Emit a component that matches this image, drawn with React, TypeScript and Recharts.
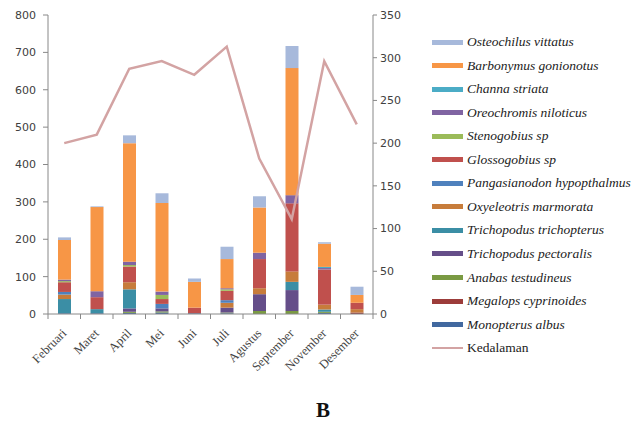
import React from 'react';
import { ComposedChart, Bar, Line, XAxis, YAxis } from 'recharts';

const months = ['Februari', 'Maret', 'April', 'Mei', 'Juni', 'Juli', 'Agustus', 'September', 'November', 'Desember'];

const monopterus = [2, 2, 3, 4, 2, 2, 0, 0, 3, 0];
const megalops = [0, 0, 0, 0, 0, 0, 0, 0, 0, 4];
const anabas = [0, 0, 3, 3, 0, 2, 8, 8, 3, 0];
const tPectoralis = [0, 0, 9, 8, 0, 13, 45, 56, 0, 0];
const tTrichopterus = [38, 11, 51, 0, 0, 0, 0, 22, 6, 0];
const oxyeleotris = [12, 0, 19, 0, 0, 13, 16, 28, 13, 9];
const pangasianodon = [7, 0, 0, 12, 0, 7, 0, 0, 0, 0];
const glossogobius = [26, 32, 42, 13, 15, 25, 78, 182, 94, 17];
const stenogobius = [3, 0, 4, 11, 0, 4, 0, 0, 0, 0];
const oreochromis = [4, 16, 9, 9, 0, 3, 17, 22, 4, 0];
const channa = [0, 0, 0, 0, 0, 0, 0, 0, 3, 0];
const barbonymus = [106, 225, 317, 237, 69, 78, 121, 340, 62, 21];
const osteochilus = [7, 2, 21, 26, 9, 33, 30, 59, 4, 22];
const kedalaman = [200, 210, 287, 296, 280, 313, 182, 111, 296, 222];

const leftTicks = [0, 100, 200, 300, 400, 500, 600, 700, 800];
const rightTicks = [0, 50, 100, 150, 200, 250, 300, 350];

// stacking order: bottom first
const series = [
  { key: 'monopterus', name: 'Monopterus albus', values: monopterus, color: '#41689F' },
  { key: 'megalops', name: 'Megalops cyprinoides', values: megalops, color: '#9C3C3A' },
  { key: 'anabas', name: 'Anabas testudineus', values: anabas, color: '#7A9A43' },
  { key: 'tPectoralis', name: 'Trichopodus pectoralis', values: tPectoralis, color: '#654E89' },
  { key: 'tTrichopterus', name: 'Trichopodus trichopterus', values: tTrichopterus, color: '#3B8EA5' },
  { key: 'oxyeleotris', name: 'Oxyeleotris marmorata', values: oxyeleotris, color: '#C77C3B' },
  { key: 'pangasianodon', name: 'Pangasianodon hypopthalmus', values: pangasianodon, color: '#4F81BD' },
  { key: 'glossogobius', name: 'Glossogobius sp', values: glossogobius, color: '#C0504D' },
  { key: 'stenogobius', name: 'Stenogobius sp', values: stenogobius, color: '#9BBB59' },
  { key: 'oreochromis', name: 'Oreochromis niloticus', values: oreochromis, color: '#8064A2' },
  { key: 'channa', name: 'Channa striata', values: channa, color: '#4BACC6' },
  { key: 'barbonymus', name: 'Barbonymus gonionotus', values: barbonymus, color: '#F79646' },
  { key: 'osteochilus', name: 'Osteochilus vittatus', values: osteochilus, color: '#A7B9DB' },
];

const lineColor = '#D3A3A3';

const data = months.map((m, i) => {
  const row: Record<string, number | string> = { month: m, kedalaman: kedalaman[i] };
  series.forEach((s) => {
    row[s.key] = s.values[i];
  });
  return row;
});

const BAND = 32.5;

const MonthTick = (props: any) => {
  const { x, y, payload, index } = props;
  const tx = x + 3;
  const ty = y + 20;
  return (
    <g>
      <line x1={x + BAND / 2} y1={y} x2={x + BAND / 2} y2={y + 5} stroke="#888" />
      {index === 0 && <line x1={x - BAND / 2} y1={y} x2={x - BAND / 2} y2={y + 5} stroke="#888" />}
      <text
        x={tx}
        y={ty}
        textAnchor="end"
        fill="#444"
        fontSize={12.5}
        fontFamily="'Liberation Serif', serif"
        transform={`rotate(-45 ${tx} ${ty})`}
      >
        {payload.value}
      </text>
    </g>
  );
};

const legendItems = [...series].reverse();

export default function App() {
  return (
    <div style={{ position: 'absolute', left: 0, top: 0, width: 634, height: 421, background: '#fff' }}>
      <ComposedChart
        width={634}
        height={421}
        data={data}
        margin={{ top: 15, right: 221, left: 0, bottom: 77 }}
        barSize={13}
      >
        <XAxis
          dataKey="month"
          xAxisId="x"
          height={30}
          stroke="#888"
          tickLine={false}
          tickSize={0}
          tickMargin={0}
          interval={0}
          tick={<MonthTick />}
        />
        <YAxis
          yAxisId="left"
          domain={[0, 800]}
          ticks={leftTicks}
          width={48}
          stroke="#888"
          tickSize={5}
          tickMargin={7}
          tick={{ fill: '#404040', fontSize: 11, fontFamily: "'DejaVu Sans', sans-serif" }}
          interval={0}
        />
        <YAxis
          yAxisId="right"
          orientation="right"
          domain={[0, 350]}
          ticks={rightTicks}
          width={40}
          stroke="#888"
          tickSize={4}
          tickMargin={3}
          tick={{ fill: '#404040', fontSize: 11, fontFamily: "'DejaVu Sans', sans-serif", textAnchor: 'start' }}
          interval={0}
        />
        {series.map((s) => (
          <Bar
            key={s.key}
            dataKey={s.key}
            name={s.name}
            stackId="a"
            xAxisId="x"
            yAxisId="left"
            fill={s.color}
            isAnimationActive={false}
          />
        ))}
        <Line
          dataKey="kedalaman"
          name="Kedalaman"
          xAxisId="x"
          yAxisId="right"
          type="linear"
          stroke={lineColor}
          strokeWidth={2.5}
          dot={false}
          activeDot={false}
          isAnimationActive={false}
        />
      </ComposedChart>
      <div style={{ position: 'absolute', left: 432, top: 30 }}>
        {legendItems.map((s, i) => (
          <div
            key={s.key}
            style={{ position: 'absolute', top: i * 23.55, left: 0, height: 24, display: 'flex', alignItems: 'center', whiteSpace: 'nowrap' }}
          >
            <div style={{ width: 31, height: 5, background: s.color }} />
            <span
              style={{
                marginLeft: 4,
                fontFamily: "'Liberation Serif', serif",
                fontStyle: 'italic',
                fontSize: 13.5,
                color: '#222',
              }}
            >
              {s.name}
            </span>
          </div>
        ))}
        <div
          style={{ position: 'absolute', top: 13 * 23.55, left: 0, height: 24, display: 'flex', alignItems: 'center', whiteSpace: 'nowrap' }}
        >
          <div style={{ width: 31, height: 2.5, background: lineColor }} />
          <span style={{ marginLeft: 4, fontFamily: "'Liberation Serif', serif", fontSize: 13.5, color: '#222' }}>
            Kedalaman
          </span>
        </div>
      </div>
      <div
        style={{
          position: 'absolute',
          left: 316,
          top: 398,
          fontFamily: "'Liberation Serif', serif",
          fontWeight: 'bold',
          fontSize: 21,
          color: '#111',
        }}
      >
        B
      </div>
    </div>
  );
}
